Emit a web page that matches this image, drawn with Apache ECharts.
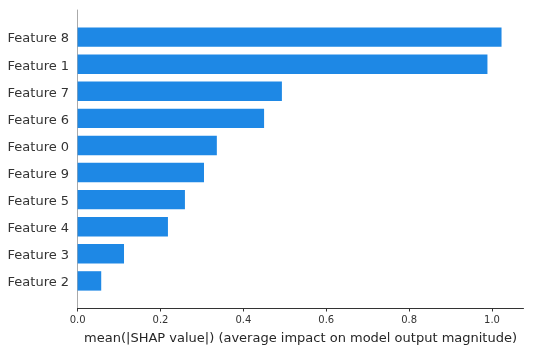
<!DOCTYPE html>
<html>
<head>
<meta charset="utf-8">
<script src="https://cdn.jsdelivr.net/npm/echarts@6/dist/echarts.min.js"></script>
<style>html,body{margin:0;padding:0;background:#fff;}#c{width:534px;height:350px;}</style>
</head>
<body>
<div id="c"></div>
<script>
// Bottom to top
var features = ['Feature 2', 'Feature 3', 'Feature 4', 'Feature 5', 'Feature 9', 'Feature 0', 'Feature 6', 'Feature 7', 'Feature 1', 'Feature 8'];
var shapValues = [0.057, 0.112, 0.218, 0.259, 0.305, 0.336, 0.450, 0.493, 0.989, 1.023];
var xTicks = [0.0, 0.2, 0.4, 0.6, 0.8, 1.0];
var xLabel = 'mean(|SHAP value|) (average impact on model output magnitude)';

var cats = [''].concat(features).concat(['']);
var vals = ['-'].concat(shapValues).concat(['-']);

var chart = echarts.init(document.getElementById('c'), null, {renderer: 'canvas'});
chart.setOption({
  animation: false,
  backgroundColor: '#ffffff',
  grid: {left: 77.6, right: 10.5, top: 10, bottom: 39.5, containLabel: false},
  xAxis: {
    type: 'value',
    min: 0,
    max: 1.076,
    interval: 0.2,
    name: xLabel,
    nameLocation: 'middle',
    nameGap: 24,
    nameTextStyle: {fontFamily: 'DejaVu Sans', fontSize: 13, color: '#262626'},
    axisLine: {show: true, lineStyle: {color: '#333333', width: 1}},
    axisTick: {show: true, length: 3.5, lineStyle: {color: '#333333'}},
    axisLabel: {
      fontFamily: 'DejaVu Sans', fontSize: 10, color: '#333333', margin: 7,
      showMaxLabel: false,
      formatter: function (v) {
        for (var i = 0; i < xTicks.length; i++) {
          if (Math.abs(v - xTicks[i]) < 1e-9) return xTicks[i].toFixed(1);
        }
        return '';
      }
    },
    splitLine: {show: false}
  },
  yAxis: {
    type: 'category',
    data: cats,
    boundaryGap: false,
    axisLine: {show: true, lineStyle: {color: '#aaaaaa', width: 1}},
    axisTick: {show: false},
    axisLabel: {fontFamily: 'DejaVu Sans', fontSize: 13, color: '#333333', margin: 8.5, verticalAlign: 'top', lineHeight: 4},
    splitLine: {show: false}
  },
  series: [{
    type: 'bar',
    data: vals,
    barWidth: 19.4,
    itemStyle: {color: '#1E88E5'},
    silent: true
  }]
});
</script>
</body>
</html>
